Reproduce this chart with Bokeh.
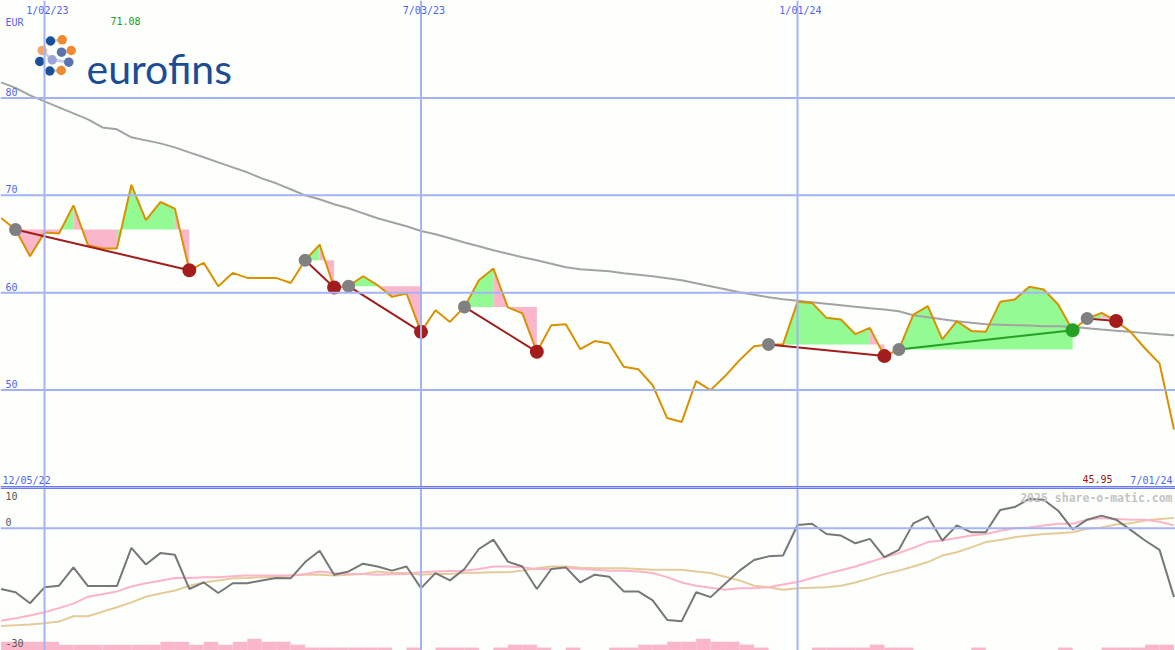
from bokeh.plotting import figure
from bokeh.layouts import column
from bokeh.models import Range1d, Span, Label
from bokeh.embed import file_html
from bokeh.resources import INLINE

# ---------------- data (weekly, week 0 = 1/02/23) ----------------
weeks = list(range(-3, 79))

price = [67.67, 66.48, 63.74, 66.17, 66.07, 68.97, 64.87, 64.53, 64.53, 71.08,
         67.44, 69.31, 68.64, 62.31, 63.06, 60.67, 62.03, 61.52, 61.52, 61.52,
         61.00, 63.33, 64.94, 60.53, 60.67, 61.69, 60.77, 59.57, 59.92, 55.98,
         58.20, 57.00, 58.54, 61.28, 62.48, 58.50, 57.87, 53.93, 56.67, 56.77,
         54.20, 55.03, 54.79, 52.39, 52.15, 50.50, 47.13, 46.72, 50.92, 50.00,
         51.44, 53.08, 54.51, 54.69, 54.69, 59.06, 58.95, 57.42, 57.25, 55.74,
         56.39, 53.49, 54.17, 57.76, 58.62, 55.20, 57.08, 56.08, 55.98, 59.06,
         59.30, 60.60, 60.33, 58.79, 56.15, 57.35, 57.93, 57.10, 55.98, 54.27,
         52.74, 45.95]

ma_long = [81.59, 81.03, 80.26, 79.64, 79.03, 78.41, 77.79, 76.97, 76.77, 75.95,
           75.64, 75.33, 74.92, 74.41, 73.90, 73.38, 72.87, 72.36, 71.74, 71.23,
           70.62, 70.00, 69.59, 69.08, 68.67, 68.15, 67.64, 67.23, 66.82, 66.34,
           66.00, 65.59, 65.15, 64.77, 64.36, 64.00, 63.64, 63.33, 62.97, 62.62,
           62.41, 62.31, 62.21, 62.00, 61.85, 61.69, 61.49, 61.28, 60.97, 60.67,
           60.36, 60.05, 59.79, 59.54, 59.33, 59.18, 59.03, 58.87, 58.72, 58.56,
           58.41, 58.28, 58.10, 57.69, 57.49, 57.28, 57.08, 56.92, 56.77, 56.72,
           56.67, 56.62, 56.56, 56.56, 56.51, 56.36, 56.21, 56.10, 56.00, 55.85,
           55.74, 55.64]

osc = [-14.9, -15.7, -18.4, -14.5, -14.1, -9.6, -14.2, -14.2, -14.2, -4.8,
       -8.9, -6.1, -6.5, -14.9, -13.3, -15.9, -13.5, -13.5, -12.8, -12.2,
       -12.3, -8.3, -5.5, -11.4, -10.6, -8.7, -9.4, -10.4, -9.4, -14.7,
       -11.0, -12.8, -10.0, -5.1, -2.8, -8.2, -9.4, -14.9, -10.0, -9.6,
       -13.3, -11.4, -11.9, -15.5, -15.5, -17.7, -22.5, -22.8, -15.7, -16.9,
       -13.6, -10.4, -7.8, -6.9, -6.7, 0.8, 1.1, -1.4, -1.8, -3.7,
       -2.6, -7.1, -5.3, 1.2, 2.9, -3.0, 0.7, -1.0, -1.0, 4.5,
       5.2, 7.2, 7.0, 4.3, -0.3, 2.1, 3.1, 2.1, -0.4, -3.0,
       -5.3, -16.9]

osc_fast = [-22.7, -22.1, -21.4, -20.6, -19.6, -18.5, -16.8, -16.2, -15.5, -14.3,
            -13.5, -12.9, -12.2, -12.2, -12.0, -12.0, -11.8, -11.6, -11.6, -11.6,
            -11.6, -11.2, -10.6, -11.0, -11.2, -11.2, -11.4, -11.3, -11.2, -10.8,
            -10.6, -10.5, -10.4, -10.0, -9.4, -9.4, -9.6, -10.0, -10.0, -9.7,
            -10.0, -10.2, -10.4, -10.4, -10.6, -11.0, -12.0, -13.3, -14.1, -14.6,
            -15.1, -14.7, -14.7, -14.5, -13.8, -13.2, -12.2, -11.2, -10.3, -9.4,
            -8.3, -7.1, -6.1, -4.8, -3.4, -3.0, -2.4, -1.8, -1.4, -0.6,
            0.0, 0.2, 0.7, 1.1, 1.1, 2.1, 2.5, 2.3, 2.1, 2.1,
            1.6, 0.7]

osc_slow = [-24.0, -23.8, -23.6, -23.3, -22.9, -21.6, -21.6, -20.5, -19.4, -18.2,
            -16.8, -16.0, -15.3, -14.1, -13.3, -12.8, -12.3, -12.2, -12.0, -11.9,
            -11.6, -11.4, -11.4, -11.6, -11.4, -11.2, -10.6, -11.0, -11.0, -11.4,
            -11.2, -11.2, -10.9, -10.9, -10.8, -10.8, -10.4, -9.8, -9.4, -9.4,
            -9.7, -9.8, -9.8, -9.8, -10.0, -10.2, -10.2, -10.2, -10.6, -11.0,
            -11.9, -12.8, -14.1, -14.5, -15.1, -14.7, -14.6, -14.5, -14.1, -13.3,
            -12.3, -11.2, -10.4, -9.4, -8.3, -6.7, -5.9, -4.7, -3.4, -2.9,
            -2.2, -1.8, -1.4, -1.2, -1.0, -0.1, 0.2, 0.9, 1.2, 1.9,
            2.3, 2.5]

vol_level = [3, 3, 3, 3, 2, 2, 2, 2, 2, 2,
             2, 3, 3, 2, 3, 2, 3, 4, 3, 3,
             2, 1, 1, 1, 1, 1, 1, 0, 1, 0,
             1, 1, 1, 0, 1, 2, 2, 1, 0, 1,
             0, 0, 1, 1, 2, 2, 3, 3, 4, 3,
             3, 2, 1, 0, 0, 0, 1, 1, 1, 1,
             2, 1, 1, 0, 0, 0, 0, 1, 0, 0,
             0, 0, 0, 1, 0, 0, 1, 1, 1, 2,
             2, 0]

signals = [(-2, 10, "down"), (18, 20, "down"), (21, 26, "down"), (29, 34, "down"),
           (50, 58, "down"), (59, 71, "up"), (72, 74, "down")]

date_tick_weeks = [0, 26, 52]
date_tick_labels = ["1/02/23", "7/03/23", "1/01/24"]
price_ticks = [50, 60, 70, 80]
osc_tick_labels = ["10", "0", "-30"]

# ---------------- styling ----------------
BG = "#FCFFFC"
GRID = "#A6B3F3"
SEP = "#6C7CF0"
BLUE_TXT = "#5064F0"
ORANGE = "#D99100"
MA_GRAY = "#A3A3A3"
GREEN_FILL = "#94FA94"
PINK_FILL = "#FAB6CA"
DOWN = "#A41D1D"
UP = "#24A024"
MONO = "DejaVu Sans Mono"

W, H1, H2 = 1175, 487, 163
REF_W = 1175.0
PXW = 14.481
X0 = -44 / PXW
X1 = (REF_W - 44) / PXW


def tx(px):
    return X0 + px / REF_W * (X1 - X0)


def ty(py):
    return 90 - py / 487.0 * 50


def by(py):
    return 10 - (py - 487) / 4.075


def idx(w):
    return w - weeks[0]


def lab(p, x, y, text, color, size="10px", align="left", baseline="top",
        font=MONO, style="normal"):
    p.add_layout(Label(x=x, y=y, text=text, text_color=color, text_font_size=size,
                       text_align=align, text_baseline=baseline, text_font=font,
                       text_font_style=style))


xr = Range1d(X0, X1)

# ---------------- top (price) panel ----------------
top = figure(width=W, height=H1, x_range=xr, y_range=Range1d(40, 90),
             output_backend="svg", toolbar_location=None,
             x_axis_location=None, y_axis_location=None, min_border=0,
             background_fill_color=BG, border_fill_color=BG, outline_line_color=None)
top.grid.visible = False

for v in price_ticks:
    top.add_layout(Span(location=v, dimension="width", line_color=GRID, line_width=2))
for w in date_tick_weeks:
    top.add_layout(Span(location=w, dimension="height", line_color=GRID, line_width=2))
top.add_layout(Span(location=40, dimension="width", line_color=SEP, line_width=3))

# logo backdrop (hides the grid behind the logo)
top.quad(left=[tx(33)], right=[tx(237)], top=[ty(35)], bottom=[ty(75)],
         fill_color=BG, line_color=None)

# signal fills: runs of equal colour merged into one polygon
fx, fy, fc = [], [], []
for s, e, kind in signals:
    base = price[idx(s)]
    cols = [GREEN_FILL if price[idx(w + 1)] > base else PINK_FILL for w in range(s, e)]
    a = s
    while a < e:
        b = a
        while b < e and cols[b - s] == cols[a - s]:
            b += 1
        xs = [a] + list(range(a, b + 1)) + [b]
        ys = [base] + [price[idx(w)] for w in range(a, b + 1)] + [base]
        fx.append(xs)
        fy.append(ys)
        fc.append(cols[a - s])
        a = b
top.patches(fx, fy, fill_color=fc, line_color=None)

top.line(weeks, ma_long, line_color=MA_GRAY, line_width=2)
top.line(weeks, price, line_color=ORANGE, line_width=2)

for s, e, kind in signals:
    top.line([s, e], [price[idx(s)], price[idx(e)]],
             line_color=UP if kind == "up" else DOWN, line_width=2)
top.scatter([s for s, e, k in signals], [price[idx(s)] for s, e, k in signals],
            size=13, fill_color="#808080", line_color=None)
top.scatter([e for s, e, k in signals], [price[idx(e)] for s, e, k in signals],
            size=14, fill_color=[UP if k == "up" else DOWN for s, e, k in signals],
            line_color=None)

# logo
dots_px = [(50, 40.5), (61.7, 39.3), (70.7, 50), (41.7, 50), (61, 51.7),
           (51.7, 59.3), (68.3, 61.7), (39.3, 61), (49.3, 70.5), (60.7, 70)]
dots_col = ["#1D4E9A", "#F08A30", "#F08A30", "#F4A56A", "#5B72B0",
            "#9AA4D8", "#5B72B0", "#1D4E9A", "#1D4E9A", "#F08A30"]
top.segment(x0=[tx(50), tx(61), tx(41.7), tx(51.7), tx(49.3)],
            y0=[ty(40.5), ty(51.7), ty(50), ty(59.3), ty(70.5)],
            x1=[tx(61.7), tx(70.7), tx(51.7), tx(68.3), tx(60.7)],
            y1=[ty(39.3), ty(50), ty(59.3), ty(61.7), ty(70)],
            line_color="#C9CFE6", line_width=3)
top.scatter([tx(a) for a, b in dots_px], [ty(b) for a, b in dots_px],
            size=9.5, fill_color=dots_col, line_color=None)
lab(top, tx(86), ty(67.5), "eurofins", "#1C4C96", size="41px",
    baseline="alphabetic", font="Lato")

# texts
for v in price_ticks:
    lab(top, tx(5), v + 0.2, str(v), BLUE_TXT, baseline="bottom")
for w, t in zip(date_tick_weeks, date_tick_labels):
    lab(top, w + 0.2, ty(4), t, BLUE_TXT, align="center")
lab(top, tx(5), ty(16), "EUR", BLUE_TXT)
lab(top, tx(110), ty(16), "71.08", "#229922")
lab(top, tx(2), ty(474), "12/05/22", BLUE_TXT)
lab(top, tx(1112), ty(474), "45.95", "#A01414", align="right")
lab(top, tx(1172), ty(474), "7/01/24", BLUE_TXT, align="right")

# ---------------- bottom (oscillator) panel ----------------
bot = figure(width=W, height=H2, x_range=xr, y_range=Range1d(-30, 10),
             output_backend="svg", toolbar_location=None,
             x_axis_location=None, y_axis_location=None, min_border=0,
             background_fill_color=BG, border_fill_color=BG, outline_line_color=None)
bot.grid.visible = False

for w in date_tick_weeks:
    bot.add_layout(Span(location=w, dimension="height", line_color=GRID, line_width=2))
bot.add_layout(Span(location=0, dimension="width", line_color=GRID, line_width=2))
bot.add_layout(Span(location=10, dimension="width", line_color=SEP, line_width=3))

bot.vbar(x=[w + 0.5 for w in weeks], width=1, bottom=-30,
         top=[-30 + lv * 0.72 for lv in vol_level], fill_color=PINK_FILL, line_color=None)
bot.line(weeks, osc_slow, line_color="#E5CB9A", line_width=2)
bot.line(weeks, osc_fast, line_color="#FDB3C8", line_width=2)
bot.line(weeks, osc, line_color="#777777", line_width=2)

lab(bot, tx(5), by(491), osc_tick_labels[0], "#555555")
lab(bot, tx(5), by(517), osc_tick_labels[1], "#555555")
lab(bot, tx(5), by(638), osc_tick_labels[2], "#555555")
lab(bot, tx(1172), by(490), "2025 share-o-matic.com", "#C4C4C4", size="11.5px",
    align="right", style="bold")

layout = column(top, bot, spacing=0)
open("out.html", "w").write(file_html(layout, INLINE))
